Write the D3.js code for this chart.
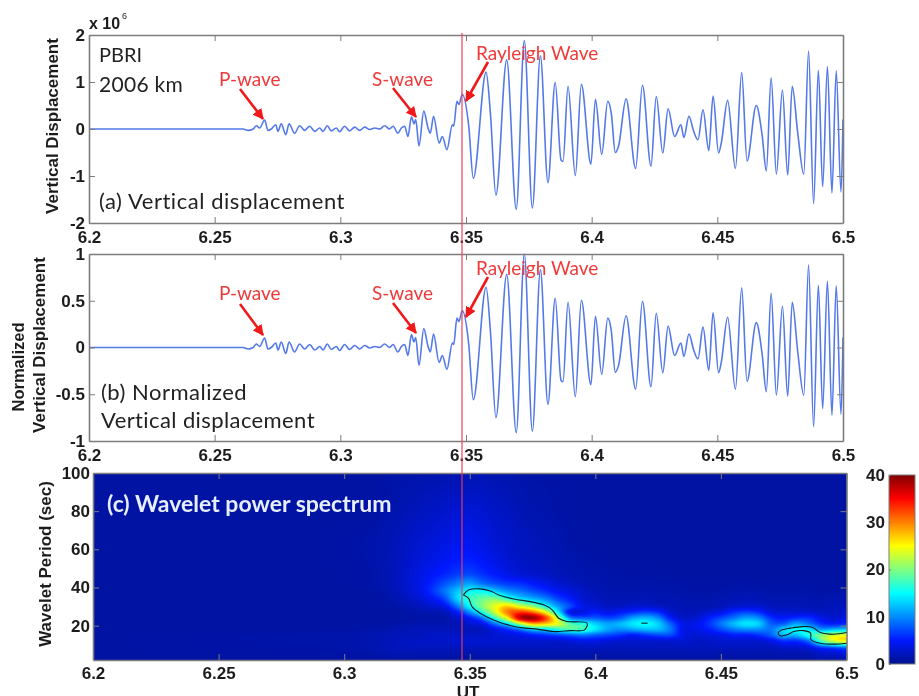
<!DOCTYPE html>
<html><head><meta charset="utf-8">
<script src="https://cdn.jsdelivr.net/npm/d3@7"></script>
<style>
html,body{margin:0;padding:0;background:#fff;overflow:hidden}
#wrap{position:relative;width:919px;height:696px;overflow:hidden;filter:blur(0.45px)}
canvas{position:absolute;z-index:1}
svg{position:absolute;left:0;top:0;z-index:2}
</style></head><body><div id="wrap"></div>
<script>
// ---------- data ----------
const times=[6.2,6.2613,6.2633,6.2653,6.2666,6.2679,6.2699,6.2712,6.2725,6.2743,6.2752,6.2765,6.2783,6.2796,6.2818,6.2838,6.2858,6.2878,6.2898,6.2918,6.2931,6.2948,6.2964,6.2984,6.2997,6.3017,6.3037,6.3057,6.3077,6.3097,6.3117,6.3137,6.3157,6.3176,6.3196,6.3210,6.3229,6.3243,6.3256,6.3269,6.3283,6.3293,6.3300,6.3313,6.3332,6.3349,6.3358,6.3371,6.3393,6.3406,6.3424,6.3446,6.3451,6.3464,6.3472,
6.3485,6.3511,6.3529,6.3580,6.3597,6.3619,6.3662,6.3700,6.3732,6.3764,6.3796,6.3826,6.3855,6.3878,6.3886,6.3906,6.3935,6.3959,6.3997,6.4015,6.4040,6.4064,6.4078,6.4094,6.4107,6.4137,6.4175,6.4202,6.4236,6.4257,6.4283,6.4304,6.4330,6.4355,6.4367,6.4387,6.4406,6.4423,6.4443,6.4466,6.4483,6.4505,6.4516,6.4541,6.4572,6.4597,6.4618,6.4655,6.4678,6.4695,6.4714,6.4735,6.4759,6.4780,6.4798,6.4820,6.4844,6.4863,6.4883,6.4902,6.4919,6.4938,6.4956,6.4973,6.4992,6.5];
const displacement=[0,0,-.03,0,.07,.02,.19,-.03,0,.09,-.05,.11,-.12,.11,-.09,.07,-.03,.06,-.05,.02,-.05,.07,-.04,.02,-.06,.06,-.04,.04,-.03,.04,-.01,.02,0,.07,0,.06,-.09,.02,.06,-.16,.26,.11,.20,-.36,.38,.02,-.09,.27,-.30,-.16,-.44,.09,.06,.59,.52,
.74,.06,-1.05,1.21,.34,-1.41,1.47,-1.71,1.88,-1.68,1.56,-1.14,.99,-.66,-.69,.91,-.99,.95,-.75,.63,-.54,.59,.34,-.50,-.36,.64,-.84,.93,-.79,.69,-.51,.43,-.16,.09,-.18,.27,-.05,-.23,.41,-.46,.70,-.51,-.29,.61,-.84,1.20,-.68,.50,-.12,-.89,1.09,-.96,.83,-.98,.91,-.09,-.96,1.66,-1.59,1.25,-1.23,1.33,-1.36,1.24,-1.34,.20];
const normalized=[0,0,-.016,0,.037,.011,.101,-.016,0,.048,-.027,.059,-.064,.059,-.048,.037,-.016,.032,-.027,.011,-.027,.037,-.021,.011,-.032,.032,-.021,.021,-.016,.021,-.005,.011,0,.037,0,.032,-.048,.011,.032,-.085,.138,.059,.106,-.191,.202,.011,-.048,.144,-.16,-.085,-.234,.048,.032,.314,.277,
.394,.032,-.559,.644,.181,-.75,.782,-.91,1,-.894,.83,-.606,.527,-.351,-.367,.484,-.527,.505,-.399,.335,-.287,.314,.181,-.266,-.191,.34,-.447,.495,-.42,.367,-.271,.229,-.085,.048,-.096,.144,-.027,-.122,.218,-.245,.372,-.271,-.154,.324,-.447,.638,-.362,.266,-.064,-.473,.58,-.511,.441,-.521,.484,-.048,-.511,.883,-.846,.665,-.654,.707,-.723,.66,-.713,.106];

const xTicks=[6.2,6.25,6.3,6.35,6.4,6.45,6.5];
const xTickLabels=["6.2","6.25","6.3","6.35","6.4","6.45","6.5"];
const yTicksA=[-2,-1,0,1,2];
const yTicksB=[-1,-.5,0,.5,1];
const yTicksC=[20,40,60,80,100];
const barTicks=[0,10,20,30,40];

// wavelet power: one array per time column, values from long period (top) to short period (bottom)
const powerTimes=[6.2,6.29,6.31,6.32,6.33,6.335,6.34,6.345,6.35,6.355,6.36,6.365,6.37,6.375,6.38,6.385,6.39,6.395,6.4,6.405,6.41,6.415,6.42,6.425,6.43,6.435,6.44,6.445,6.45,6.455,6.46,6.465,6.47,6.475,6.48,6.485,6.49,6.495,6.5];
const powerPeriods=[100,80,65,55,47,42,38,34,30,27,24,21,18,15,12,8,2];
const powerColumns=[
[1,1,1,1,1,1,1,1,1,1,1,1,1,1,1,1,1],
[1,1,1,1,1,1,1,1,1,1,1,1,1,1.3,1.3,1.2,1],
[1,1,1.3,1.3,1.2,1.2,1,1,1,1,1,1,1.3,1.5,1.5,1.5,1],
[1.2,1.5,1.9,2,2,2,1.8,1.5,1.2,1,1,1.2,1.5,2,2,2,1],
[1.4,2.1,2.8,3.2,3.6,3.8,3.8,3,2,1.4,1.2,1.5,2,2,2.5,2,1],
[1.5,2.4,3.2,3.8,4.6,5.5,6,4.5,2.8,1.6,1.2,1.5,2,2.5,2.5,2,1],
[1.6,2.7,3.6,4.4,5.5,7.5,9,7,4,2,1.3,1.5,2,2.5,2.5,2,1],
[1.7,3,4.2,5,6.5,9.5,12.5,13,9,5,2.8,1.8,2,2.5,3,2,1],
[1.8,3.1,4.2,5.2,7,11,15,17,15,10,5,3,2,2.5,3,2,1],
[1.8,2.9,3.7,4.6,6,9,15,19,20,16,9,4,2.2,2.5,3,2,1],
[1.6,2.5,3,3.8,5,7.5,13,20,24,23,17,9,4,3,3,2,1],
[1.5,2.2,2.7,3,4,6.5,10.5,17,27,30,25,14,6,3.5,3,2,1],
[1.3,1.8,2.2,2.5,3.2,6,9,14,24,33,37,22,9,4,3,2,1],
[1.2,1.5,2,2.2,2.8,5,7.5,12,21,31,39,28,13,5,3,2,1],
[1.2,1.4,1.7,2,2.4,4,6,10,16,25,33,27,14,6,3,2,1],
[1.1,1.2,1.5,1.7,2,3,4.5,7,11,15,22,24,16,7,3,2,1],
[1,1.1,1.2,1.5,1.7,2.4,3.5,5,7,4,10,18,18,8,3.5,2,1],
[1,1,1.1,1.3,1.5,1.8,2.5,3,4,4,8,16,17,9,4,2,1],
[1,1,1,1.2,1.4,1.5,1.9,2.3,3.2,5,8,13,14,8,4,2,1],
[1,1,1,1.1,1.3,1.4,1.5,1.8,2.5,4,7,11,11,7,3.5,2,1],
[1,1,1,1,1.2,1.3,1.5,1.8,2.5,5,8,12,10,6,3,2,1],
[1,1,1,1,1.2,1.3,1.5,1.8,3,6,11,14,11,5,3,2,1],
[1,1,1,1,1.1,1.3,1.5,1.9,3,7,12,15,12,6,3,2,1],
[1,1,1,1,1.1,1.3,1.5,1.7,2.5,6,10,13,12,7,3,2,1],
[1,1,1,1,1,1.2,1.4,1.6,2,3,5,8,9,7,3,2,1],
[1,1,1,1,1,1.2,1.3,1.5,1.7,2,2.5,4,4,4,3,2,1],
[1,1,1,1,1,1.1,1.2,1.4,1.6,2,3,4,4,3,2.5,2,1],
[1,1,1,1,1,1.1,1.2,1.4,1.7,3,5,6,5,3.5,2.5,2,1],
[1,1,1,1,1,1.1,1.3,1.6,2,4,7,9,7,4,3,2,1],
[1,1,1,1,1,1.2,1.4,1.8,2.8,6,9,12,9,5,3,2,1],
[1,1,1,1,1,1.2,1.5,1.9,3.2,7,11,14,10,5,3,2,1],
[1,1,1,1,1,1.2,1.4,1.8,3,6,10,13,10,6,3,2,1],
[1,1,1,1,1,1.1,1.3,1.6,2.2,3.5,6,8,9,8,4,2,1],
[1,1,1,1,1,1.1,1.3,1.6,2,3,5,8,13,12,6,2.5,1],
[1,1,1,1,1,1.1,1.3,1.6,2,3,6,11,15,12,6,2.5,1],
[1,1,1,1,1,1.1,1.3,1.5,1.8,3,6,9,14,16,9,3,1],
[1,1,1,1,1,1.1,1.2,1.5,1.8,2.4,4,6,11,20,18,5,1.5],
[1,1,1,1,1,1.1,1.3,1.6,2,2.3,3,5,12,23,23,6,1.5],
[1,1,1,1,1,1.1,1.3,1.7,2.2,3,4,6,13,24,25,7,1.5]];

// significance contours as [time, period]
const contourMain=[[6.3475,36.1],[6.3495,38.7],[6.3542,39.3],[6.3582,38.2],[6.3615,36.1],[6.3675,34],[6.3741,32.6],[6.3794,30.9],[6.3828,28.3],[6.3854,23.9],[6.3887,22.2],[6.3967,21.3],[6.3957,17.8],[6.39,17.4],[6.3834,16.9],[6.3768,18.2],[6.3721,18.7],[6.3661,20.1],[6.3595,23],[6.3542,26.5],[6.3509,30],[6.3495,34.4],[6.3475,36.1]];
const contourTail=[[6.5,16.4],[6.4949,15.5],[6.4896,16.4],[6.4863,19.2],[6.4824,19.5],[6.4777,18.7],[6.4744,17.8],[6.4728,16.1],[6.4737,14.7],[6.4764,15.2],[6.479,16.9],[6.483,17.4],[6.4857,16.1],[6.4859,12.6],[6.4896,10.8],[6.4949,10.3],[6.5,10.8]];
const contourDot=[[6.4183,21.3],[6.4208,21.3]];

const eventTime=6.3484;
const jetStops=[0,5,15,25,35,40];
const jetColors=["#00128c","#0018ff","#00ffff","#ffff00","#ff0000","#800000"];

// ---------- layout ----------
const W=919,H=696;
const wrap=d3.select("#wrap");
const svg=wrap.append("svg").attr("width",W).attr("height",H);
const tickFont="'Liberation Sans',Arial,sans-serif";
const noteFont="Lato,'Open Sans',sans-serif";
const ink="#1c1c1c",frame="#7d7d7d";

const xA=d3.scaleLinear().domain([6.2,6.5]).range([89,843]);
const xC=d3.scaleLinear().domain([6.2,6.5]).range([93,846.5]);
const yA=d3.scaleLinear().domain([-2,2]).range([223,35]);
const yB=d3.scaleLinear().domain([-1,1]).range([441,254]);
const yC=d3.scaleLinear().domain([2,100]).range([660,473]);
const colorScale=d3.scaleLinear().domain(jetStops).range(jetColors);
const yBar=d3.scaleLinear().domain([0,40]).range([664,475]);

// ---------- heat map through canvas ----------
const cx0=xC.range()[0],cy0=yC.range()[1],cw=Math.round(xC.range()[1]-cx0),ch=Math.round(yC.range()[0]-cy0);
const heat=wrap.append("canvas").attr("width",cw).attr("height",ch)
  .style("left",cx0+"px").style("top",cy0+"px").node();
const ctx=heat.getContext("2d");
const img=ctx.createImageData(cw,ch);
const idxT=d3.scaleLinear().domain(powerTimes).range(powerTimes.map((d,i)=>i)).clamp(true);
const idxP=d3.scaleLinear().domain(powerPeriods).range(powerPeriods.map((d,i)=>i)).clamp(true);
const nT=powerTimes.length,nP=powerPeriods.length;
const cr=u=>[(-u*u*u+2*u*u-u)/2,(3*u*u*u-5*u*u+2)/2,(-3*u*u*u+4*u*u+u)/2,(u*u*u-u*u)/2];
for(let py=0;py<ch;py++){
  const fy=idxP(yC.invert(cy0+py+.5)),iy=Math.min(nP-2,Math.floor(fy)),wy=cr(fy-iy);
  for(let px=0;px<cw;px++){
    const fx=idxT(xC.invert(cx0+px+.5)),ix=Math.min(nT-2,Math.floor(fx)),wx=cr(fx-ix);
    let v=0;
    for(let a=0;a<4;a++){const col=powerColumns[Math.max(0,Math.min(nT-1,ix+a-1))];
      for(let b=0;b<4;b++) v+=wx[a]*wy[b]*col[Math.max(0,Math.min(nP-1,iy+b-1))];}
    const c=d3.rgb(colorScale(Math.max(0,Math.min(40,v))));
    const k=(py*cw+px)*4;
    img.data[k]=c.r;img.data[k+1]=c.g;img.data[k+2]=c.b;img.data[k+3]=255;
  }
}
ctx.putImageData(img,0,0);

// colour bar through canvas
const barX=889,barW=26;
const bar=wrap.append("canvas").attr("width",barW).attr("height",189)
  .style("left",barX+"px").style("top","475px").node().getContext("2d");
for(let i=0;i<189;i++){bar.fillStyle=colorScale(yBar.invert(475+i+.5));bar.fillRect(0,i,barW,1);}

// ---------- panels ----------
function styleAxis(g){
  g.select(".domain").attr("stroke",frame).attr("stroke-width",1.6);
  g.selectAll(".tick line").attr("stroke",frame).attr("stroke-width",1);
  g.selectAll("text").attr("font-family",tickFont).attr("font-weight",700).attr("font-size",17).attr("fill",ink);
}
function panelAxes(x,y,yTicks,fmt,yPad,xPad){
  const [l,r]=x.range(),[b,t]=y.range();
  const xFmt=d=>xTickLabels[xTicks.indexOf(d)];
  svg.append("g").attr("transform",`translate(0,${b})`)
    .call(d3.axisBottom(x).tickValues(xTicks).tickFormat(xFmt).tickSizeOuter(0).tickSizeInner(-6).tickPadding(xPad)).call(styleAxis);
  svg.append("g").attr("transform",`translate(0,${t})`)
    .call(d3.axisTop(x).tickValues(xTicks).tickFormat("").tickSizeOuter(0).tickSizeInner(-6)).call(styleAxis);
  svg.append("g").attr("transform",`translate(${l},0)`)
    .call(d3.axisLeft(y).tickValues(yTicks).tickFormat(fmt).tickSizeOuter(0).tickSizeInner(-6).tickPadding(yPad)).call(styleAxis);
  svg.append("g").attr("transform",`translate(${r},0)`)
    .call(d3.axisRight(y).tickValues(yTicks).tickFormat("").tickSizeOuter(0).tickSizeInner(-6)).call(styleAxis);
}
const waveLine=(y)=>d3.line().x((d,i)=>xA(times[i])).y(d=>y(d)).curve(d3.curveMonotoneX);
svg.append("path").attr("d",waveLine(yA)(displacement)).attr("fill","none").attr("stroke","#5479e8").attr("stroke-width",1.6);
svg.append("path").attr("d",waveLine(yB)(normalized)).attr("fill","none").attr("stroke","#5479e8").attr("stroke-width",1.6);
panelAxes(xA,yA,yTicksA,d=>String(d),4,8);
panelAxes(xA,yB,yTicksB,d=>String(d),4,8);
panelAxes(xC,yC,yTicksC,d=>String(d),3,7);

// contours
const contourLine=d3.line().x(d=>xC(d[0])).y(d=>yC(d[1])).curve(d3.curveCatmullRom.alpha(.5));
[contourMain,contourTail,contourDot].forEach(c=>svg.append("path").attr("d",contourLine(c)).attr("fill","none").attr("stroke","#0a1f24").attr("stroke-width",1.1));

// colour bar frame and axis
svg.append("rect").attr("x",barX).attr("y",475).attr("width",barW).attr("height",189).attr("fill","none").attr("stroke",frame).attr("stroke-width",1);
svg.append("g").attr("transform",`translate(${barX},0)`)
  .call(d3.axisLeft(yBar).tickValues(barTicks).tickFormat(d=>String(d)).tickSizeOuter(0).tickSizeInner(-2).tickPadding(4)).call(styleAxis).call(g=>g.select(".domain").remove());

// event line
svg.append("line").attr("x1",xA(eventTime)).attr("x2",xA(eventTime)).attr("y1",33).attr("y2",660)
  .attr("stroke","#ee3a55").attr("stroke-opacity",.72).attr("stroke-width",1.6);

// ---------- text ----------
const label=(txt,x,y,o={})=>svg.append("text").attr("x",x).attr("y",y).text(txt)
  .attr("font-family",o.font||noteFont).attr("font-size",o.size||21).attr("font-weight",o.weight||400)
  .attr("letter-spacing",o.spacing||0)
  .attr("fill",o.fill||"#222").attr("text-anchor",o.anchor||"start");
const rotated=(txt,x,y,size)=>svg.append("text").attr("transform",`translate(${x},${y}) rotate(-90)`).text(txt)
  .attr("text-anchor","middle").attr("dominant-baseline","central").attr("font-family",tickFont).attr("font-weight",700).attr("font-size",size).attr("fill",ink);
label("x 10",89,29,{font:tickFont,size:16,weight:700,fill:ink});
label("6",122,19,{font:tickFont,size:9,fill:ink});
label("PBRI",99,62,{size:20});label("2006 km",99,92,{spacing:.3});
label("(a) Vertical displacement",99,209,{size:22,spacing:.55});
label("(b) Normalized",101,400,{size:22,spacing:.5});label("Vertical displacement",101,428,{size:22,spacing:.4});
label("(c) Wavelet power spectrum",107,512,{weight:700,fill:"#e6eeff",size:23});
rotated("Vertical Displacement",52,126,17);
rotated("Normalized",18,367,16.5);
rotated("Vertical Displacement",39,345,17);
rotated("Wavelet Period (sec)",45,564,17);
label("UT",468,698,{font:tickFont,size:17,weight:700,fill:ink,anchor:"middle"});

// arrows and wave labels
const red="#f01818";
svg.append("defs").append("marker").attr("id","head").attr("viewBox","0 0 10 10").attr("refX",9).attr("refY",5)
  .attr("markerWidth",4.2).attr("markerHeight",4.2).attr("orient","auto").append("path").attr("d","M0,0L10,5L0,10z").attr("fill",red);
const notes=[["P-wave",219,86],["S-wave",372,86],["Rayleigh Wave",476,60],["P-wave",219,300],["S-wave",372,300],["Rayleigh Wave",476,275]];
notes.forEach(n=>label(n[0],n[1],n[2],{fill:"#f03a3a",size:19}));
const arrows=[[240,89,263,119],[393,88,416,117],[488,62,466,101],[240,304,263,335],[393,303,416,333],[488,277,466,317]];
arrows.forEach(a=>svg.append("line").attr("x1",a[0]).attr("y1",a[1]).attr("x2",a[2]).attr("y2",a[3])
  .attr("stroke",red).attr("stroke-width",2.6).attr("marker-end","url(#head)"));
</script></body></html>
